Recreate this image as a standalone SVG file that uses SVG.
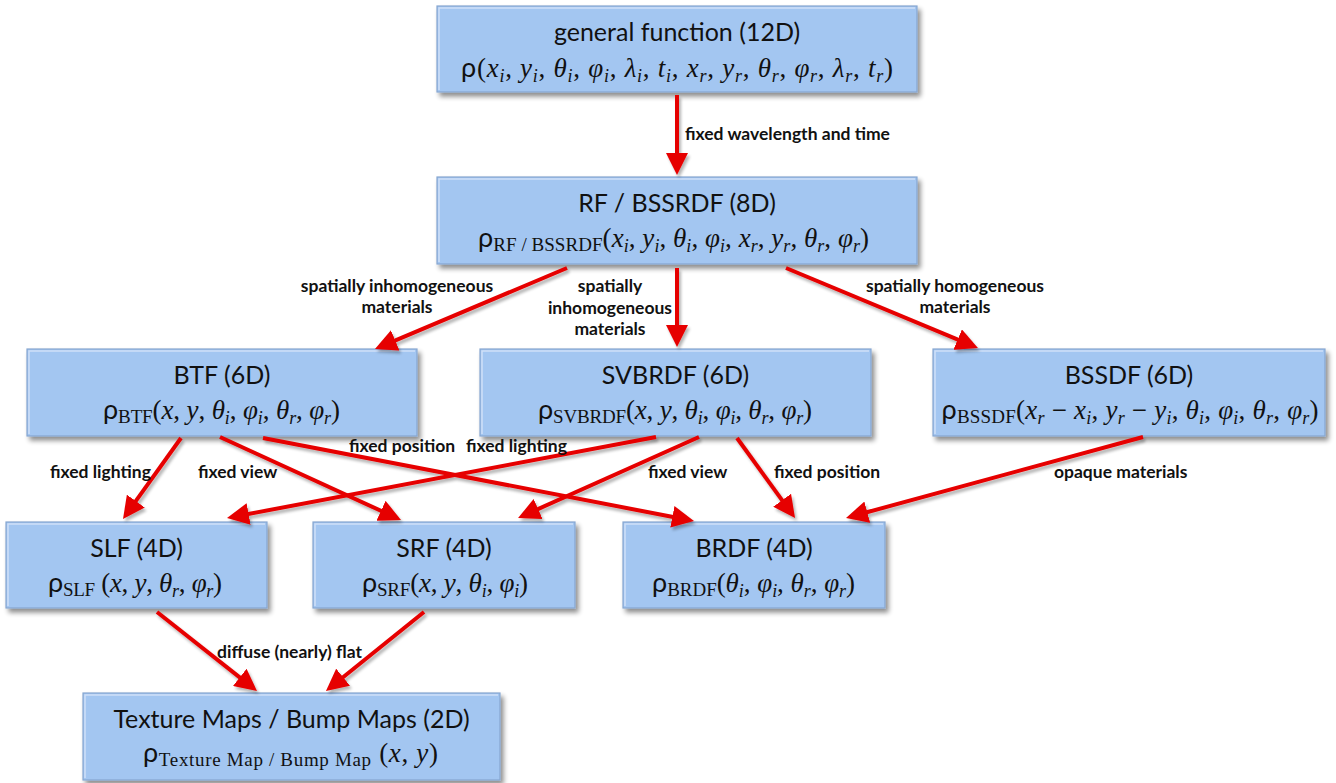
<svg xmlns="http://www.w3.org/2000/svg" width="1336" height="783" viewBox="0 0 1336 783">
<defs>
<filter id="sh" x="-10%" y="-20%" width="125%" height="150%">
<feGaussianBlur in="SourceAlpha" stdDeviation="2.5"/>
<feOffset dx="3" dy="4" result="b"/>
<feComponentTransfer><feFuncA type="linear" slope="0.45"/></feComponentTransfer>
<feMerge><feMergeNode/><feMergeNode in="SourceGraphic"/></feMerge>
</filter>
<filter id="ash" x="-10%" y="-10%" width="130%" height="130%">
<feGaussianBlur in="SourceAlpha" stdDeviation="1.5"/>
<feOffset dx="2" dy="3" result="b"/>
<feComponentTransfer><feFuncA type="linear" slope="0.3"/></feComponentTransfer>
<feMerge><feMergeNode/><feMergeNode in="SourceGraphic"/></feMerge>
</filter>
<marker id="ah" markerUnits="userSpaceOnUse" markerWidth="22" markerHeight="22" refX="10" refY="11" orient="auto" viewBox="0 0 22 22">
<path d="M0,0 L22,11 L0,22 z" fill="#e60000"/>
</marker>
</defs>
<style>
.box{fill:#a3c6f1;stroke:#86a6d0;stroke-width:1.2}
.hl{fill:none;stroke:#cfe0f7;stroke-width:1.5}
.title{font-family:Lato,'Liberation Sans',Arial,sans-serif;font-size:25px;fill:#111;text-anchor:middle}
.f{font-family:'Liberation Serif','DejaVu Serif',serif;font-size:27px;fill:#111;text-anchor:middle}
.rho{font-family:Lato,'Liberation Sans',sans-serif}
.i{font-style:italic}
.si{font-style:italic;font-size:18px}
.sl{font-size:19px}
.lbl{font-family:Lato,'Liberation Sans',Arial,sans-serif;font-size:17.5px;font-weight:bold;fill:#111}
.c{text-anchor:middle}
.conn{stroke:#e60000;stroke-width:4;fill:none;marker-end:url(#ah)}
</style>
<rect width="1336" height="783" fill="#ffffff"/>

<g id="n-general">
<rect class="box" x="437" y="6" width="480" height="86" filter="url(#sh)"/>
<path class="hl" d="M439,90 V8 H915"/>
<text class="title" x="677" y="41">general function (12D)</text>
<text class="f" x="677" y="77" textLength="432" lengthAdjust="spacing"><tspan class="rho">ρ</tspan>(<tspan class="i">x</tspan><tspan class="si" dy="5">i</tspan><tspan dy="-5">, </tspan><tspan class="i">y</tspan><tspan class="si" dy="5">i</tspan><tspan dy="-5">, </tspan><tspan class="i">θ</tspan><tspan class="si" dy="5">i</tspan><tspan dy="-5">, </tspan><tspan class="i">φ</tspan><tspan class="si" dy="5">i</tspan><tspan dy="-5">, </tspan><tspan class="i">λ</tspan><tspan class="si" dy="5">i</tspan><tspan dy="-5">, </tspan><tspan class="i">t</tspan><tspan class="si" dy="5">i</tspan><tspan dy="-5">, </tspan><tspan class="i">x</tspan><tspan class="si" dy="5">r</tspan><tspan dy="-5">, </tspan><tspan class="i">y</tspan><tspan class="si" dy="5">r</tspan><tspan dy="-5">, </tspan><tspan class="i">θ</tspan><tspan class="si" dy="5">r</tspan><tspan dy="-5">, </tspan><tspan class="i">φ</tspan><tspan class="si" dy="5">r</tspan><tspan dy="-5">, </tspan><tspan class="i">λ</tspan><tspan class="si" dy="5">r</tspan><tspan dy="-5">, </tspan><tspan class="i">t</tspan><tspan class="si" dy="5">r</tspan><tspan dy="-5">)</tspan></text>
</g>

<g id="n-rf">
<rect class="box" x="437" y="177" width="480" height="87" filter="url(#sh)"/>
<path class="hl" d="M439,262 V179 H915"/>
<text class="title" x="677" y="212">RF / BSSRDF (8D)</text>
<text class="f" x="673.5" y="247" textLength="391" lengthAdjust="spacing"><tspan class="rho">ρ</tspan><tspan class="sl" dy="4">RF / BSSRDF</tspan><tspan dy="-4">(</tspan><tspan class="i">x</tspan><tspan class="si" dy="5">i</tspan><tspan dy="-5">, </tspan><tspan class="i">y</tspan><tspan class="si" dy="5">i</tspan><tspan dy="-5">, </tspan><tspan class="i">θ</tspan><tspan class="si" dy="5">i</tspan><tspan dy="-5">, </tspan><tspan class="i">φ</tspan><tspan class="si" dy="5">i</tspan><tspan dy="-5">, </tspan><tspan class="i">x</tspan><tspan class="si" dy="5">r</tspan><tspan dy="-5">, </tspan><tspan class="i">y</tspan><tspan class="si" dy="5">r</tspan><tspan dy="-5">, </tspan><tspan class="i">θ</tspan><tspan class="si" dy="5">r</tspan><tspan dy="-5">, </tspan><tspan class="i">φ</tspan><tspan class="si" dy="5">r</tspan><tspan dy="-5">)</tspan></text>
</g>

<g id="n-btf">
<rect class="box" x="27" y="349" width="390" height="87" filter="url(#sh)"/>
<path class="hl" d="M29,434 V351 H415"/>
<text class="title" x="222" y="384">BTF (6D)</text>
<text class="f" x="221.5" y="419" textLength="237" lengthAdjust="spacing"><tspan class="rho">ρ</tspan><tspan class="sl" dy="4">BTF</tspan><tspan dy="-4">(</tspan><tspan class="i">x</tspan>, <tspan class="i">y</tspan>, <tspan class="i">θ</tspan><tspan class="si" dy="5">i</tspan><tspan dy="-5">, </tspan><tspan class="i">φ</tspan><tspan class="si" dy="5">i</tspan><tspan dy="-5">, </tspan><tspan class="i">θ</tspan><tspan class="si" dy="5">r</tspan><tspan dy="-5">, </tspan><tspan class="i">φ</tspan><tspan class="si" dy="5">r</tspan><tspan dy="-5">)</tspan></text>
</g>

<g id="n-svbrdf">
<rect class="box" x="480" y="349" width="391" height="87" filter="url(#sh)"/>
<path class="hl" d="M482,434 V351 H869"/>
<text class="title" x="675.5" y="384">SVBRDF (6D)</text>
<text class="f" x="675" y="419" textLength="274" lengthAdjust="spacing"><tspan class="rho">ρ</tspan><tspan class="sl" dy="4">SVBRDF</tspan><tspan dy="-4">(</tspan><tspan class="i">x</tspan>, <tspan class="i">y</tspan>, <tspan class="i">θ</tspan><tspan class="si" dy="5">i</tspan><tspan dy="-5">, </tspan><tspan class="i">φ</tspan><tspan class="si" dy="5">i</tspan><tspan dy="-5">, </tspan><tspan class="i">θ</tspan><tspan class="si" dy="5">r</tspan><tspan dy="-5">, </tspan><tspan class="i">φ</tspan><tspan class="si" dy="5">r</tspan><tspan dy="-5">)</tspan></text>
</g>

<g id="n-bssdf">
<rect class="box" x="933" y="349" width="392" height="87" filter="url(#sh)"/>
<path class="hl" d="M935,434 V351 H1323"/>
<text class="title" x="1129" y="384">BSSDF (6D)</text>
<text class="f" x="1130" y="419" textLength="377" lengthAdjust="spacing"><tspan class="rho">ρ</tspan><tspan class="sl" dy="4">BSSDF</tspan><tspan dy="-4">(</tspan><tspan class="i">x</tspan><tspan class="si" dy="5">r</tspan><tspan dy="-5"> − </tspan><tspan class="i">x</tspan><tspan class="si" dy="5">i</tspan><tspan dy="-5">, </tspan><tspan class="i">y</tspan><tspan class="si" dy="5">r</tspan><tspan dy="-5"> − </tspan><tspan class="i">y</tspan><tspan class="si" dy="5">i</tspan><tspan dy="-5">, </tspan><tspan class="i">θ</tspan><tspan class="si" dy="5">i</tspan><tspan dy="-5">, </tspan><tspan class="i">φ</tspan><tspan class="si" dy="5">i</tspan><tspan dy="-5">, </tspan><tspan class="i">θ</tspan><tspan class="si" dy="5">r</tspan><tspan dy="-5">, </tspan><tspan class="i">φ</tspan><tspan class="si" dy="5">r</tspan><tspan dy="-5">)</tspan></text>
</g>

<g id="n-slf">
<rect class="box" x="6" y="522" width="261" height="86" filter="url(#sh)"/>
<path class="hl" d="M8,606 V524 H265"/>
<text class="title" x="136.5" y="557">SLF (4D)</text>
<text class="f" x="135" y="592" textLength="174" lengthAdjust="spacing"><tspan class="rho">ρ</tspan><tspan class="sl" dy="4">SLF</tspan><tspan dy="-4"> (</tspan><tspan class="i">x</tspan>, <tspan class="i">y</tspan>, <tspan class="i">θ</tspan><tspan class="si" dy="5">r</tspan><tspan dy="-5">, </tspan><tspan class="i">φ</tspan><tspan class="si" dy="5">r</tspan><tspan dy="-5">)</tspan></text>
</g>

<g id="n-srf">
<rect class="box" x="313" y="522" width="262" height="86" filter="url(#sh)"/>
<path class="hl" d="M315,606 V524 H573"/>
<text class="title" x="444" y="557">SRF (4D)</text>
<text class="f" x="445" y="592" textLength="166" lengthAdjust="spacing"><tspan class="rho">ρ</tspan><tspan class="sl" dy="4">SRF</tspan><tspan dy="-4">(</tspan><tspan class="i">x</tspan>, <tspan class="i">y</tspan>, <tspan class="i">θ</tspan><tspan class="si" dy="5">i</tspan><tspan dy="-5">, </tspan><tspan class="i">φ</tspan><tspan class="si" dy="5">i</tspan><tspan dy="-5">)</tspan></text>
</g>

<g id="n-brdf">
<rect class="box" x="623" y="522" width="262" height="86" filter="url(#sh)"/>
<path class="hl" d="M625,606 V524 H883"/>
<text class="title" x="754" y="557">BRDF (4D)</text>
<text class="f" x="753.5" y="592" textLength="203" lengthAdjust="spacing"><tspan class="rho">ρ</tspan><tspan class="sl" dy="4">BRDF</tspan><tspan dy="-4">(</tspan><tspan class="i">θ</tspan><tspan class="si" dy="5">i</tspan><tspan dy="-5">, </tspan><tspan class="i">φ</tspan><tspan class="si" dy="5">i</tspan><tspan dy="-5">, </tspan><tspan class="i">θ</tspan><tspan class="si" dy="5">r</tspan><tspan dy="-5">, </tspan><tspan class="i">φ</tspan><tspan class="si" dy="5">r</tspan><tspan dy="-5">)</tspan></text>
</g>

<g id="n-texture">
<rect class="box" x="83" y="693" width="417" height="87" filter="url(#sh)"/>
<path class="hl" d="M85,778 V695 H498"/>
<text class="title" x="291.5" y="728">Texture Maps / Bump Maps (2D)</text>
<text class="f" x="290.5" y="762" textLength="295" lengthAdjust="spacing"><tspan class="rho">ρ</tspan><tspan class="sl" dy="4">Texture Map / Bump Map</tspan><tspan dy="-4"> (</tspan><tspan class="i">x</tspan>, <tspan class="i">y</tspan>)</text>
</g>

<g id="connectors" filter="url(#ash)">
<line class="conn" x1="677" y1="95" x2="677" y2="163"/>
<line class="conn" x1="567" y1="268" x2="386" y2="344.3"/>
<line class="conn" x1="677" y1="268" x2="677" y2="335"/>
<line class="conn" x1="786" y1="268" x2="966.9" y2="343.4"/>
<line class="conn" x1="181" y1="438" x2="130" y2="509.2"/>
<line class="conn" x1="220" y1="437" x2="390.1" y2="515"/>
<line class="conn" x1="263" y1="438" x2="682.2" y2="518.7"/>
<line class="conn" x1="656" y1="437" x2="238.8" y2="515.8"/>
<line class="conn" x1="699" y1="437" x2="529" y2="513.1"/>
<line class="conn" x1="737" y1="438" x2="788" y2="508.3"/>
<line class="conn" x1="1143" y1="437" x2="857.6" y2="514.8"/>
<line class="conn" x1="157" y1="612" x2="247.6" y2="683.6"/>
<line class="conn" x1="424" y1="612" x2="335.3" y2="683.5"/>
</g>

<g id="labels">
<text class="lbl" x="685" y="140">fixed wavelength and time</text>
<text class="lbl c" x="397" y="292">spatially inhomogeneous</text>
<text class="lbl c" x="397" y="313">materials</text>
<text class="lbl c" x="610" y="292">spatially</text>
<text class="lbl c" x="610" y="314">inhomogeneous</text>
<text class="lbl c" x="610" y="335">materials</text>
<text class="lbl c" x="955" y="292">spatially homogeneous</text>
<text class="lbl c" x="955" y="313">materials</text>
<text class="lbl" x="349" y="452">fixed position</text>
<text class="lbl" x="466" y="452">fixed lighting</text>
<text class="lbl" x="50" y="478">fixed lighting</text>
<text class="lbl" x="198" y="478">fixed view</text>
<text class="lbl" x="648" y="478">fixed view</text>
<text class="lbl" x="774" y="478">fixed position</text>
<text class="lbl" x="1054" y="478">opaque materials</text>
<text class="lbl" x="217" y="658">diffuse (nearly) flat</text>
</g>
</svg>
